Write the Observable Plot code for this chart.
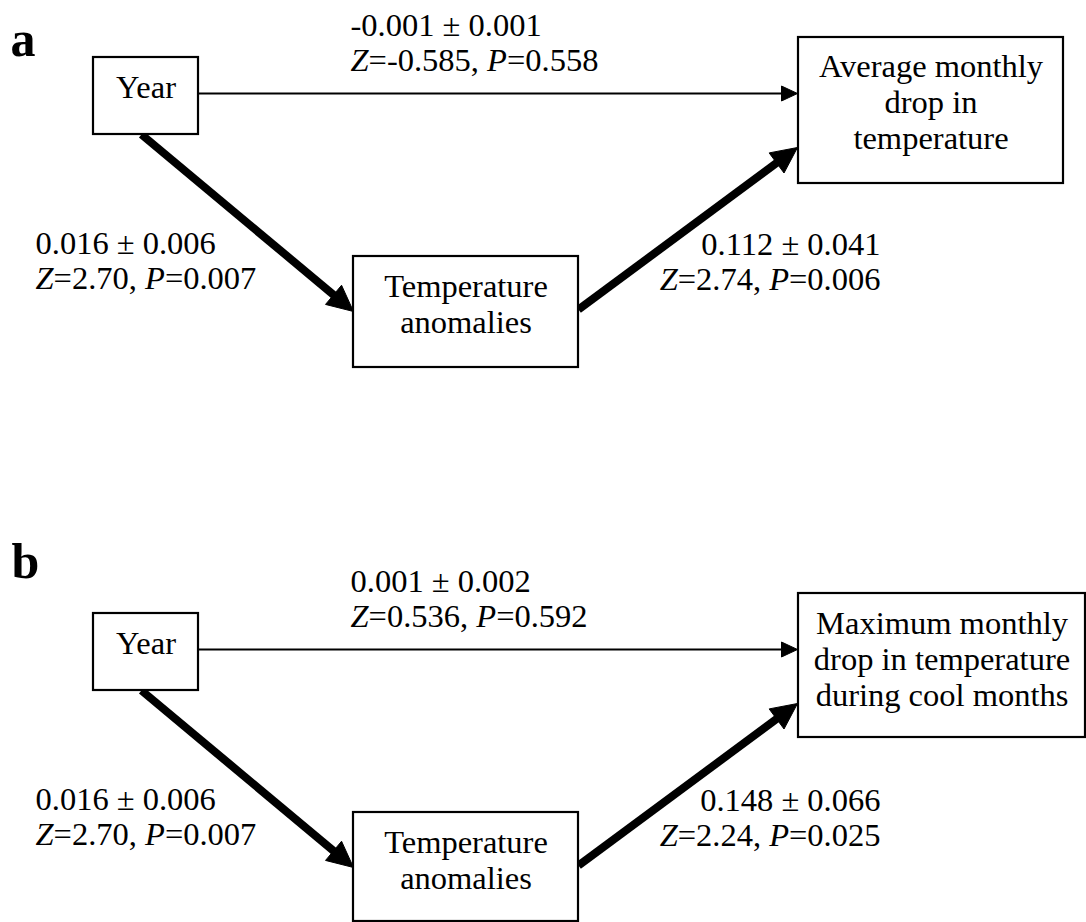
<!DOCTYPE html>
<html>
<head>
<meta charset="utf-8">
<script src="https://cdn.jsdelivr.net/npm/d3@7"></script>
<script src="https://cdn.jsdelivr.net/npm/@observablehq/plot@0.6"></script>
<style>
  html, body { margin: 0; padding: 0; background: #fff; }
  #chart svg { display: block; }
</style>
</head>
<body>
<div id="chart"></div>
<script>
// ---- Path model results: Year -> Temperature anomalies -> drop in temperature ----
const panels = ["a", "b"];
const predictor = "Year";
const mediator = "Temperature\nanomalies";
const outcomes = [
  "Average monthly\ndrop in\ntemperature",
  "Maximum monthly\ndrop in temperature\nduring cool months"
];
// paths, in order: Year -> outcome, Year -> mediator, mediator -> outcome
const paths = ["direct", "toMediator", "fromMediator"];
const estimates = [[-0.001, 0.016, 0.112], [0.001, 0.016, 0.148]];
const stdErrors = [[0.001, 0.006, 0.041], [0.002, 0.006, 0.066]];
const zLabels = [["-0.585", "2.70", "2.74"], ["0.536", "2.70", "2.24"]];
const pValues = [[0.558, 0.007, 0.006], [0.592, 0.007, 0.025]];

// ---- Diagram layout (canvas pixels) ----
const W = 1086, H = 922;
const panelTop = [0, 556];
const letterPos = [[10, 55], [11, 577]];
const boxLayout = {
  predictor: {x1: 93, x2: 198, y1: 57, y2: 134, baseline: 97},
  mediator: {x1: 353, x2: 578, y1: 256, y2: 367, baseline: 296},
  outcome: [
    {x1: 798, x2: 1063, y1: 37, y2: 183, baseline: 76},
    {x1: 798, x2: 1085, y1: 37, y2: 181, baseline: 77}
  ]
};
const boxLineStep = 36;
const labelLayout = {
  direct: {x: 350, baseline: 35, anchor: "start"},
  toMediator: {x: 35, baseline: 253, anchor: "start"},
  fromMediator: {x: 880, baseline: 254, anchor: "end"}
};
const labelLineStep = 35;
const arrowLayout = {
  direct: [[198, 93], [797, 93]],
  toMediator: [[141, 134], [353, 311]],
  fromMediator: [[578, 309], [797, 147]]
};
const arrowStyle = {
  thin: {width: 2.2, headLength: 16, headHalf: 7.5},
  thick: {width: 8, headLength: 26, headHalf: 12.5}
};
const fontSize = 32.5;
const serif = "'Liberation Serif', 'Times New Roman', Times, serif";

// ---- Build mark tables ----
const boxes = [], boxText = [], labels = [], shafts = [], heads = [], letters = [];

panels.forEach((panel, p) => {
  const top = panelTop[p];
  letters.push({x: letterPos[p][0], y: letterPos[p][1], text: panel});

  const nodes = [
    {text: predictor, ...boxLayout.predictor},
    {text: mediator, ...boxLayout.mediator},
    {text: outcomes[p], ...boxLayout.outcome[p]}
  ];
  nodes.forEach(n => {
    boxes.push({x1: n.x1, x2: n.x2, y1: n.y1 + top, y2: Math.min(n.y2 + top, H - 1)});
    n.text.split("\n").forEach((line, i) => {
      boxText.push({x: (n.x1 + n.x2) / 2, y: n.baseline + top + i * boxLineStep, text: line});
    });
  });

  paths.forEach((path, k) => {
    const L = labelLayout[path];
    const lines = [
      `${estimates[p][k].toFixed(3)} ± ${stdErrors[p][k].toFixed(3)}`,
      `Z=${zLabels[p][k]}, P=${pValues[p][k].toFixed(3)}`
    ];
    lines.forEach((line, i) => {
      labels.push({x: L.x, y: L.baseline + top + i * labelLineStep, text: line, anchor: L.anchor});
    });

    // significant paths are drawn with a heavy arrow
    const style = pValues[p][k] < 0.05 ? arrowStyle.thick : arrowStyle.thin;
    const [[sx, sy], [tx, ty]] = arrowLayout[path];
    const y0 = sy + top, y1 = ty + top;
    const len = Math.hypot(tx - sx, y1 - y0);
    const ux = (tx - sx) / len, uy = (y1 - y0) / len;
    const nx = -uy, ny = ux;
    const bx = tx - ux * style.headLength, by = y1 - uy * style.headLength;
    shafts.push({
      x1: sx, y1: y0,
      x2: tx - ux * style.headLength * 0.7, y2: y1 - uy * style.headLength * 0.7,
      w: style.width
    });
    const id = `${panel}-${path}`;
    heads.push(
      {id, x: tx, y: y1},
      {id, x: bx + nx * style.headHalf, y: by + ny * style.headHalf},
      {id, x: bx - nx * style.headHalf, y: by - ny * style.headHalf},
      {id, x: tx, y: y1}
    );
  });
});

const chart = Plot.plot({
  width: W,
  height: H,
  margin: 0,
  x: {domain: [0, W], range: [0, W], axis: null},
  y: {domain: [0, H], range: [0, H], axis: null},
  style: {background: "#fff", fontFamily: serif, color: "#000"},
  marks: [
    Plot.link(shafts, {x1: "x1", y1: "y1", x2: "x2", y2: "y2", stroke: "#000", strokeWidth: "w", strokeLinecap: "butt"}),
    Plot.line(heads, {x: "x", y: "y", z: "id", fill: "#000", stroke: "#000", strokeWidth: 1, strokeLinejoin: "miter"}),
    Plot.rect(boxes, {x1: "x1", x2: "x2", y1: "y1", y2: "y2", fill: "#fff", stroke: "#000", strokeWidth: 2.2}),
    Plot.text(boxText, {x: "x", y: "y", text: "text", textAnchor: "middle", lineAnchor: "bottom", fontSize, fontFamily: serif, fill: "#000"}),
    Plot.text(labels.filter(d => d.anchor === "start"), {x: "x", y: "y", text: "text", textAnchor: "start", lineAnchor: "bottom", fontSize, fontFamily: serif, fill: "#000"}),
    Plot.text(labels.filter(d => d.anchor === "end"), {x: "x", y: "y", text: "text", textAnchor: "end", lineAnchor: "bottom", fontSize, fontFamily: serif, fill: "#000"}),
    Plot.text(letters, {x: "x", y: "y", text: "text", textAnchor: "start", lineAnchor: "bottom", fontSize: 50, fontWeight: "bold", fontFamily: serif, fill: "#000"})
  ]
});

// Statistic symbols Z and P are set in italics
const svgNS = "http://www.w3.org/2000/svg";
chart.querySelectorAll("text").forEach(t => {
  const s = t.textContent;
  if (!/[ZP]=/.test(s) || t.querySelector("tspan")) return;
  t.textContent = "";
  s.split(/([ZP])(?==)/).forEach(part => {
    if (!part) return;
    const ts = document.createElementNS(svgNS, "tspan");
    if (part === "Z" || part === "P") ts.setAttribute("font-style", "italic");
    ts.textContent = part;
    t.appendChild(ts);
  });
});

document.getElementById("chart").appendChild(chart);
</script>
</body>
</html>
